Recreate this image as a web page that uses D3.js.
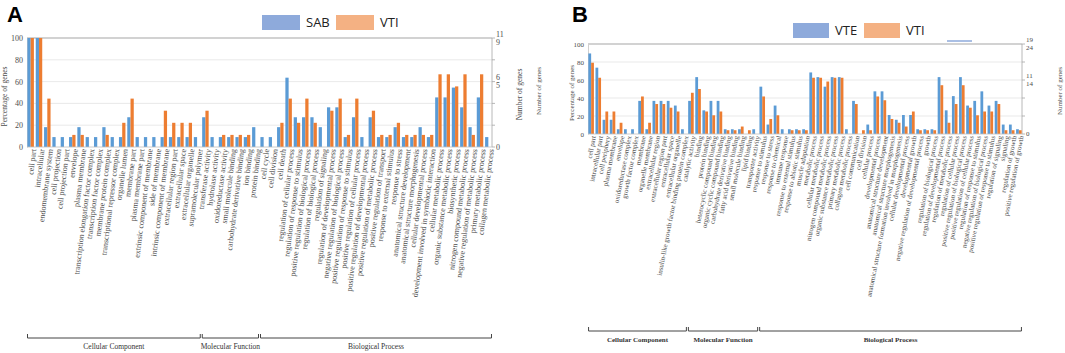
<!DOCTYPE html>
<html>
<head>
<meta charset="utf-8">
<script src="https://cdn.jsdelivr.net/npm/d3@7"></script>
<style>
  body { margin: 0; background: #fff; }
  svg { display: block; }
</style>
</head>
<body>
<div id="chart"></div>
<script>
// ---- data ----
var catsA = ["cell part","intracellular","endomembrane system","cell projection","cell projection part","envelope",
  "plasma membrane","transcription elongation factor complex","transcription factor complex","membrane protein complex",
  "transcriptional repressor complex","organelle lumen","membrane part","plasma membrane part",
  "extrinsic component of membrane","side of membrane","intrinsic component of membrane","extracellular region part",
  "extracellular space","extracellular organelle","supramolecular polymer",
  "transferase activity","hydrolase activity","oxidoreductase activity","small molecule binding",
  "carbohydrate derivative binding","ion binding","protein binding",
  "cell cycle","cell division","cell death","regulation of cellular process","regulation of response to stimulus",
  "positive regulation of biological process","regulation of biological process","regulation of signaling",
  "regulation of developmental process","negative regulation of biological process",
  "positive regulation of response to stimulus","positive regulation of cellular process",
  "positive regulation of developmental process","positive regulation of metabolic process",
  "positive regulation of transport","response to external stimulus","response to stress",
  "anatomical structure development","anatomical structure morphogenesis","cellular developmental process",
  "development involved in symbiotic interaction","cellular metabolic process","organic substance metabolic process",
  "biosynthetic process","nitrogen compound metabolic process","negative regulation of metabolic process",
  "primary metabolic process","collagen metabolic process"];
var sabPct = [100,100,18.2,9.1,9.1,9.1,18.2,9.1,9.1,18.2,9.1,9.1,27.3,9.1,9.1,9.1,9.1,9.1,9.1,9.1,9.1,
  27.3,9.1,9.1,9.1,9.1,9.1,18.2,
  9.1,9.1,18.2,63.6,27.3,27.3,27.3,18.2,36.4,36.4,9.1,27.3,9.1,27.3,9.1,9.1,18.2,9.1,9.1,18.2,9.1,
  45.5,45.5,54.5,36.4,18.2,45.5,9.1];
var vtiPctA = [100,100,44.4,0,0,11.1,11.1,0,0,11.1,0,22.2,44.4,0,0,0,33.3,22.2,22.2,22.2,0,
  33.3,0,11.1,11.1,11.1,11.1,0,
  0,0,22.2,44.4,22.2,44.4,22.2,0,33.3,44.4,11.1,44.4,0,33.3,11.1,11.1,22.2,11.1,11.1,11.1,11.1,
  66.7,66.7,55.6,66.7,11.1,66.7,0];
var groupsA = ["Cellular Component","Molecular Function","Biological Process"];
var groupSizesA = [21, 7, 28];

var catsB = ["cell part","intracellular part","cell periphery","plasma membrane","envelope","oxidoreductase complex",
  "growth factor complex","membrane","organelle membrane","extracellular region","extracellular region part",
  "extracellular space","extracellular organelle","insulin-like growth factor binding protein complex",
  "catalytic activity","binding","protein binding","heterocyclic compound binding","organic cyclic compound binding",
  "carbohydrate derivative binding","fatty acid derivative binding","small molecule binding","lipid binding",
  "transporter activity",
  "response to stimulus","response to stress","response to chemical","immune response","response to external stimulus",
  "response to abiotic stimulus","muscle adaptation","metabolic process","cellular metabolic process",
  "nitrogen compound metabolic process","organic substance metabolic process","primary metabolic process",
  "collagen metabolic process","cell communication","cell division","cellular process","developmental process",
  "anatomical structure development","anatomical structure morphogenesis",
  "anatomical structure formation involved in morphogenesis","cellular developmental process","developmental growth",
  "negative regulation of developmental process","growth","regulation of biological process",
  "regulation of developmental process","regulation of metabolic process","regulation of cellular process",
  "positive regulation of biological process","positive regulation of cellular process",
  "regulation of response to stimulus","negative regulation of biological process",
  "positive regulation of response to stimulus","regulation of signaling","signaling","regulation of growth",
  "positive regulation of growth"];
var vtePct = [89.5,73.7,15.8,15.8,5.3,5.3,5.3,36.8,5.3,36.8,36.8,36.8,31.6,5.3,
  36.8,63.2,26.3,36.8,36.8,5.3,5.3,5.3,0,5.3,
  52.6,10.5,31.6,5.3,5.3,5.3,5.3,68.4,63.2,52.6,63.2,63.2,5.3,36.8,0,10.5,47.4,47.4,21.1,15.8,21.1,21.1,
  5.3,5.3,5.3,63.2,26.3,42.1,63.2,31.6,36.8,47.4,31.6,36.8,10.5,10.5,5.3];
var vtiPctB = [79.2,62.5,25,25,12.5,0,0,41.7,12.5,33.3,33.3,29.2,25,0,
  45.8,50,25,20.8,25,4.2,4.2,8.3,4.2,0,
  41.7,16.7,20.8,0,4.2,4.2,4.2,62.5,62.5,58.3,62.5,62.5,0,33.3,4.2,4.2,41.7,37.5,16.7,12.5,8.3,25,
  4.2,4.2,4.2,54.2,12.5,33.3,54.2,29.2,20.8,25,25,33.3,4.2,4.2,4.2];
var groupsB = ["Cellular Component","Molecular Function","Biological Process"];
var groupSizesB = [14, 10, 37];

var yTicks = [0, 20, 40, 60, 80, 100];
// right axis (number of genes) labels, stacked pairs at the 100 / 60 / 0 % lines
var rightTickPct = [100, 60, 0];
var rightLabelsA = [["11","9"], ["6","5"], ["0"]];
var rightLabelsB = [["19","24"], ["11","14"], ["0"]];

var blue = "#5b9bd5", orange = "#ed7d31";
var legendBlue = "#8eaadb", legendOrange = "#f4b183";
var textGray = "#4d4d4d";

var svg = d3.select("#chart").append("svg")
  .attr("width", 1065)
  .attr("height", 353);

function drawPanel(o) {
  var g = svg.append("g");
  var rows = o.cats.map(function(c, i) { return {cat: c, s1: o.s1[i], s2: o.s2[i]}; });

  var x = d3.scaleBand().domain(o.cats).range([o.left, o.right]).paddingInner(0.22).paddingOuter(0.05);
  var xs = d3.scaleBand().domain(["s1","s2"]).range([0, x.bandwidth()]);
  var y = d3.scaleLinear().domain([0, 100]).range([o.bottom, o.top]);

  // grid lines
  g.selectAll(".grid").data(yTicks.filter(function(d) { return d > 0 && d < 100; }))
    .enter().append("line")
    .attr("x1", o.left).attr("x2", o.right)
    .attr("y1", function(d) { return y(d); }).attr("y2", function(d) { return y(d); })
    .attr("stroke", "#e3e3e3").attr("stroke-width", 0.8);
  g.append("line").attr("x1", o.left).attr("x2", o.right).attr("y1", y(100)).attr("y2", y(100))
    .attr("stroke", "#a6a6a6").attr("stroke-width", 1.2);

  // left axis
  var yAxis = g.append("g")
    .attr("transform", "translate(" + o.left + ",0)")
    .call(d3.axisLeft(y).tickValues(yTicks).tickSize(0).tickPadding(4));
  yAxis.select(".domain").attr("stroke", "#d0d0d0");
  yAxis.selectAll("text").attr("font-family", "Liberation Serif").attr("font-size", o.tickSize).attr("fill", textGray);

  // right axis
  g.append("line").attr("x1", o.right).attr("x2", o.right).attr("y1", y(100)).attr("y2", y(0))
    .attr("stroke", "#a6a6a6").attr("stroke-width", 0.8);
  g.selectAll(".rtick").data(yTicks).enter().append("line")
    .attr("x1", o.right).attr("x2", o.right + 3)
    .attr("y1", function(d) { return y(d); }).attr("y2", function(d) { return y(d); })
    .attr("stroke", "#a6a6a6").attr("stroke-width", 0.8);
  rightTickPct.forEach(function(p, i) {
    var labs = o.rightLabels[i];
    labs.forEach(function(l, j) {
      var dy = labs.length === 1 ? 0 : (j === 0 ? -4 : 4);
      g.append("text").attr("x", o.right + 4).attr("y", y(p) + dy).attr("dy", "0.35em")
        .attr("font-family", "Liberation Serif").attr("font-size", o.tickSize).attr("fill", textGray)
        .text(l);
    });
  });

  // bars
  var grp = g.selectAll(".cat").data(rows).enter().append("g")
    .attr("transform", function(d) { return "translate(" + x(d.cat) + ",0)"; });
  grp.append("rect")
    .attr("x", xs("s1")).attr("width", xs.bandwidth())
    .attr("y", function(d) { return y(d.s1); })
    .attr("height", function(d) { return y(0) - y(d.s1); })
    .attr("fill", blue);
  grp.append("rect")
    .attr("x", xs("s2")).attr("width", xs.bandwidth())
    .attr("y", function(d) { return y(d.s2); })
    .attr("height", function(d) { return y(0) - y(d.s2); })
    .attr("fill", orange);

  // baseline
  g.append("line").attr("x1", o.left).attr("x2", o.right).attr("y1", y(0)).attr("y2", y(0))
    .attr("stroke", "#bfbfbf").attr("stroke-width", 0.8);

  // category labels, steep rotation
  var xAxis = g.append("g")
    .attr("transform", "translate(0," + y(0) + ")")
    .call(d3.axisBottom(x).tickSize(0).tickPadding(0));
  xAxis.select(".domain").remove();
  xAxis.selectAll("text")
    .attr("font-family", "Liberation Serif").attr("font-size", o.labelSize).attr("fill", textGray)
    .attr("text-anchor", "end")
    .attr("dy", "0.3em")
    .attr("transform", "translate(" + (x.bandwidth() / 2) + "," + o.labelGap + ") rotate(" + o.angle + ")")
    .attr("y", 0).attr("x", 0);

  // group brackets
  var start = 0;
  o.groupSizes.forEach(function(n, i) {
    var c0 = o.cats[start], c1 = o.cats[start + n - 1];
    var x0 = x(c0) - x.step() * x.paddingInner() / 2 + 1;
    var x1 = x(c1) + x.bandwidth() + x.step() * x.paddingInner() / 2 - 1;
    g.append("path")
      .attr("d", "M" + x0 + "," + (o.bracketY - 4) + "V" + o.bracketY + "H" + x1 + "V" + (o.bracketY - 4))
      .attr("fill", "none").attr("stroke", "#444").attr("stroke-width", 1);
    g.append("text").attr("x", (x0 + x1) / 2).attr("y", o.bracketY + 11)
      .attr("text-anchor", "middle").attr("font-family", "Liberation Serif")
      .attr("font-size", o.groupSize).attr("font-weight", o.groupWeight).attr("fill", "#333")
      .text(o.groups[i]);
    start += n;
  });

  // axis titles
  function vtitle(tx, ty, txt, size) {
    g.append("text").attr("transform", "translate(" + tx + "," + ty + ") rotate(-90)")
      .attr("text-anchor", "middle").attr("font-family", "Liberation Serif")
      .attr("font-size", size).attr("fill", textGray).text(txt);
  }
  vtitle(o.yTitleX, (o.top + o.bottom) / 2 + 4, "Percentage of genes", o.titleSize);
  vtitle(o.nTitleX, (o.top + o.bottom) / 2 + 2, "Number of genes", o.titleSize);
  if (o.nTitleX2) vtitle(o.nTitleX2, (o.top + o.bottom) / 2 + 2, "Number of genes", o.titleSize);

  // panel letter
  g.append("text").attr("x", o.letterX).attr("y", 22)
    .attr("font-family", "Liberation Sans").attr("font-weight", "bold").attr("font-size", 22)
    .text(o.letter);

  // legend
  o.legend.forEach(function(l, i) {
    var lx = o.legendX + i * o.legendStep;
    g.append("rect").attr("x", lx).attr("y", o.legendY).attr("width", o.legendW).attr("height", 15)
      .attr("fill", i === 0 ? legendBlue : legendOrange);
    g.append("text").attr("x", lx + o.legendW + 6).attr("y", o.legendY + 12)
      .attr("font-family", "Open Sans").attr("font-size", 13).attr("fill", "#222").text(l);
  });
  return g;
}

drawPanel({
  cats: catsA, s1: sabPct, s2: vtiPctA, groups: groupsA, groupSizes: groupSizesA,
  rightLabels: rightLabelsA,
  left: 27, right: 492, top: 38, bottom: 147,
  tickSize: 8, labelSize: 8, labelGap: 2, angle: -83,
  bracketY: 338, groupSize: 7.5, groupWeight: "normal",
  yTitleX: 7, nTitleX: 522, titleSize: 7.5,
  letter: "A", letterX: 7,
  legend: ["SAB", "VTI"], legendX: 262, legendY: 15, legendStep: 74, legendW: 38
});

var gB = drawPanel({
  cats: catsB, s1: vtePct, s2: vtiPctB, groups: groupsB, groupSizes: groupSizesB,
  rightLabels: rightLabelsB,
  left: 588, right: 1022, top: 44, bottom: 134,
  tickSize: 7, labelSize: 7, labelGap: 2, angle: -79,
  bracketY: 331, groupSize: 7, groupWeight: "bold",
  yTitleX: 574, nTitleX: 541, nTitleX2: 1062, titleSize: 7,
  letter: "B", letterX: 572,
  legend: ["VTE", "VTI"], legendX: 793, legendY: 23, legendStep: 71, legendW: 36
});
// stray legend line marker above panel B
gB.append("line").attr("x1", 947).attr("x2", 972).attr("y1", 41).attr("y2", 41)
  .attr("stroke", legendBlue).attr("stroke-width", 1.5);
</script>
</body>
</html>
